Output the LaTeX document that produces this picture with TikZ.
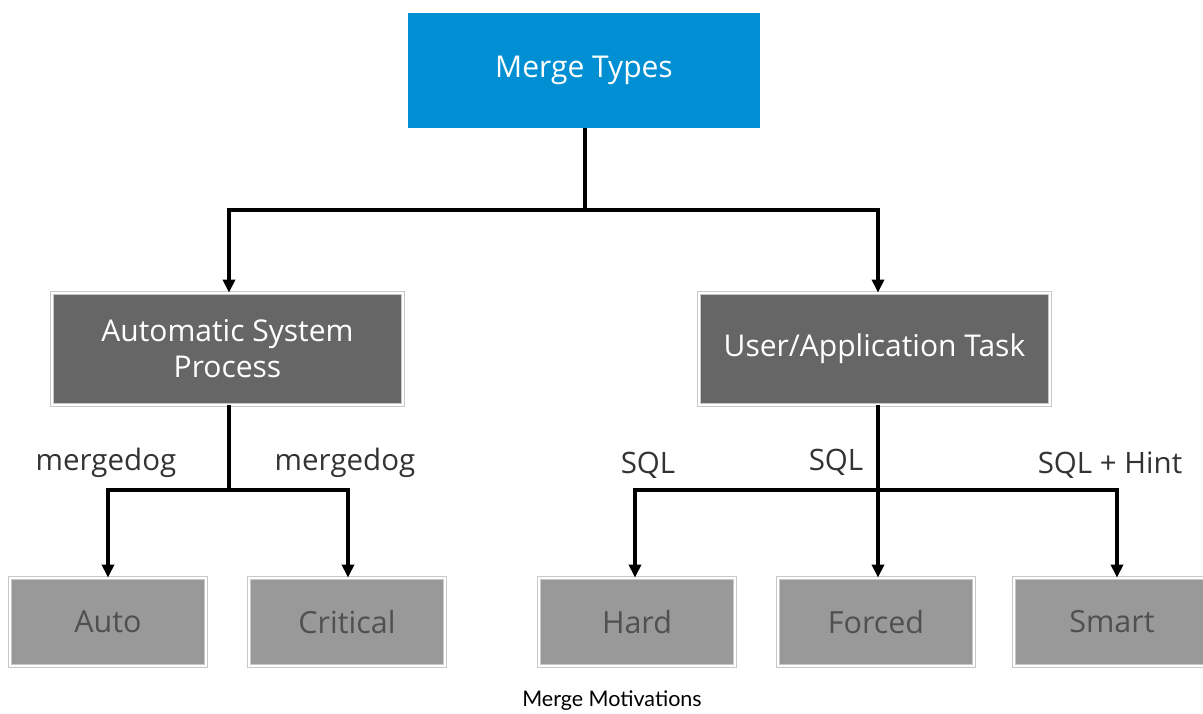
\documentclass[tikz,border=0pt]{standalone}
\usepackage{fontspec}
\setmainfont{Lato}
\newfontfamily\boxfont{Open Sans}
\usetikzlibrary{arrows.meta}
\definecolor{sapblue}{RGB}{0,143,211}
\definecolor{darkbox}{RGB}{102,102,102}
\definecolor{lightbox}{RGB}{153,153,153}
\definecolor{frame}{RGB}{200,200,200}
\definecolor{lbl}{RGB}{51,51,51}
\definecolor{boxtxt}{RGB}{80,80,80}
\begin{document}
\begin{tikzpicture}[x=1pt,y=-1pt,
  conn/.style={line width=3.5pt,-{Triangle[width=12pt,length=13pt]}},
  plain/.style={line width=3.5pt},
  topbox/.style={fill=sapblue,text=white,font=\boxfont\fontsize{30}{34}\selectfont,minimum width=352pt,minimum height=115pt,inner sep=0pt},
  midbox/.style={fill=darkbox,text=white,font=\boxfont\fontsize{30}{36}\selectfont,align=center,minimum width=351pt,minimum height=112pt,inner sep=0pt,draw=frame,line width=0.8pt,double=white,double distance=2.5pt},
  leafbox/.style={fill=lightbox,text=boxtxt,font=\boxfont\fontsize{30.5}{34}\selectfont,minimum width=196pt,minimum height=88pt,inner sep=0pt,draw=frame,line width=0.8pt,double=white,double distance=2.5pt},
  lab/.style={text=lbl,font=\boxfont\fontsize{29.5}{32}\selectfont,inner sep=0pt}]
\useasboundingbox (0,0) rectangle (1203,713);
\node[topbox] (top) at (584,70.5) {Merge Types};
\node[midbox] (asp) at (227.5,349) {Automatic System\\Process};
\node[midbox] (uat) at (874.5,349) {User/Application Task};
\node[leafbox] (auto) at (108,622) {Auto};
\node[leafbox] (crit) at (347,622) {Critical};
\node[leafbox] (hard) at (637,622) {Hard};
\node[leafbox] (forc) at (876,622) {Forced};
\node[leafbox] (smart) at (1112,622) {Smart};
% top split
\coordinate (tj) at (585,210);
\draw[plain] (top.south -| tj) -- (tj);
\draw[conn] (tj) -| ([xshift=1.5pt]asp.north);
\draw[conn] (tj) -| ([xshift=3.5pt]uat.north);
% left split
\coordinate (lj) at (229,490);
\draw[plain] ([xshift=1.5pt]asp.south) -- (lj);
\draw[conn] (lj) -| (auto.north);
\draw[conn] (lj) -| ([xshift=1pt]crit.north);
% right split
\coordinate (rj) at (878,490);
\draw[conn] ([xshift=3.5pt]uat.south) -- ([xshift=2pt]forc.north);
\draw[conn] (rj) -| ([xshift=-2pt]hard.north);
\draw[conn] (rj) -| ([xshift=5pt]smart.north);
% labels
\node[lab] (l1) at (106,463) {mergedog};
\node[lab] (l2) at (345,463) {mergedog};
\node[lab] (l3) at (648,465) {SQL};
\node[lab] (l4) at (836,462) {SQL};
\node[lab] (l5) at (1110,465) {SQL + Hint};
\node[font=\fontsize{21.5}{24}\selectfont,inner sep=0pt] (cap) at (612,701) {Merge Motivations};
\end{tikzpicture}
\end{document}
